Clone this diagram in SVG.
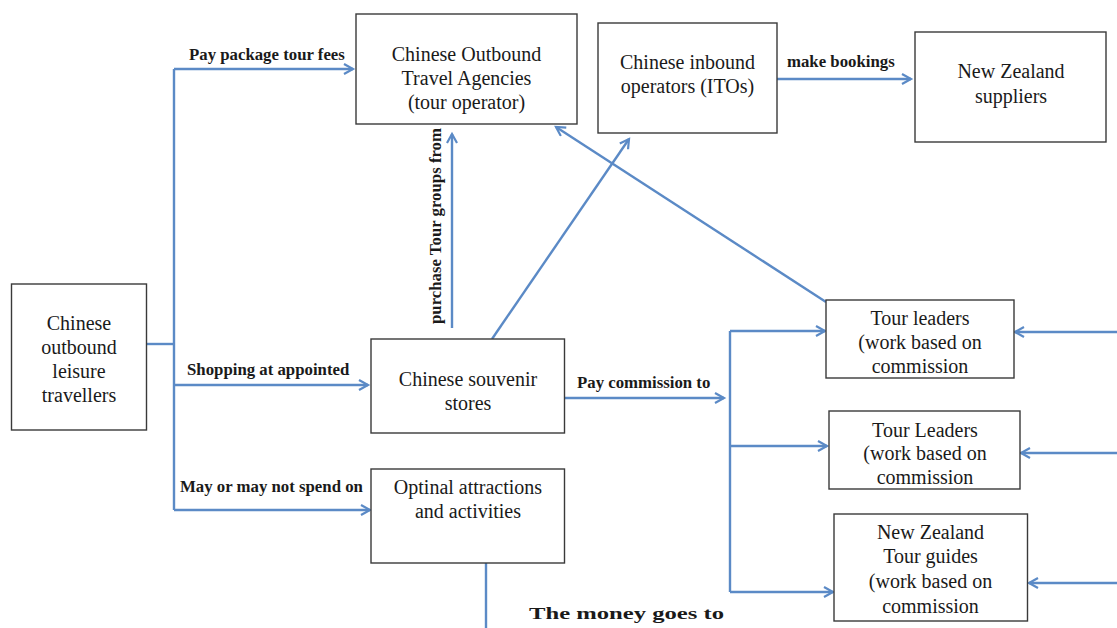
<svg xmlns="http://www.w3.org/2000/svg" width="1117" height="628" viewBox="0 0 1117 628">
  <defs>
    <marker id="arrow" markerUnits="userSpaceOnUse" markerWidth="14" markerHeight="14" refX="10" refY="6" orient="auto">
      <path d="M1,1 L10,6 L1,11" fill="none" stroke="#5b8ac6" stroke-width="2.2"/>
    </marker>
  </defs>
  <style>
    .box { fill: #ffffff; stroke: #3a3a3a; stroke-width: 1.4; }
    .node { font-family: "Liberation Serif", "Times New Roman", serif; font-size: 20px; fill: #1a1a1a; text-anchor: middle; }
    .lbl { font-family: "Liberation Serif", "Times New Roman", serif; font-size: 16.8px; font-weight: bold; fill: #1a1a1a; }
    .wire { fill: none; stroke: #5b8ac6; stroke-width: 2.4; }
    .arr { marker-end: url(#arrow); }
  </style>
  <rect width="1117" height="628" fill="#ffffff"/>

  <!-- connectors -->
  <g id="connectors">
    <!-- traveller trunk and branches -->
    <path class="wire" d="M146,344 H174"/>
    <path class="wire" d="M174,510 V69"/>
    <path class="wire arr" d="M174,69 H353"/>
    <path class="wire arr" d="M174,385 H368"/>
    <path class="wire arr" d="M174,510 H370"/>
    <!-- souvenir stores upwards -->
    <path class="wire arr" d="M452,328 V134"/>
    <path class="wire arr" d="M492,339 L629,139"/>
    <!-- tour leaders back to agencies -->
    <path class="wire arr" d="M826,302 L556,127"/>
    <!-- ITOs to suppliers -->
    <path class="wire arr" d="M777,79 H911"/>
    <!-- commission -->
    <path class="wire arr" d="M564,398 H724"/>
    <path class="wire" d="M730,331 V592"/>
    <path class="wire arr" d="M730,331 H825"/>
    <path class="wire arr" d="M730,446 H827"/>
    <path class="wire arr" d="M730,592 H833"/>
    <!-- inputs from the right -->
    <path class="wire arr" d="M1117,332 H1015"/>
    <path class="wire arr" d="M1117,453 H1021"/>
    <path class="wire arr" d="M1117,583 H1029"/>
    <!-- optional attractions downwards -->
    <path class="wire" d="M486,563 V628"/>

    <text class="lbl" x="189" y="60">Pay package tour fees</text>
    <text class="lbl" x="187" y="375">Shopping at appointed</text>
    <text class="lbl" x="180" y="492">May or may not spend on</text>
    <text class="lbl" x="787" y="67">make bookings</text>
    <text class="lbl" x="577" y="388">Pay commission to</text>
    <text class="lbl" transform="translate(441,226) rotate(-90)" text-anchor="middle">purchase Tour groups from</text>
    <text class="lbl" x="529" y="619" font-size="22" textLength="195" lengthAdjust="spacingAndGlyphs">The money goes to</text>
  </g>

  <g id="agencies">
    <rect class="box" x="356" y="14" width="221" height="110"/>
    <text class="node" x="466.5" y="61">Chinese Outbound</text>
    <text class="node" x="466.5" y="85">Travel Agencies</text>
    <text class="node" x="466.5" y="109">(tour operator)</text>
  </g>

  <g id="itos">
    <rect class="box" x="598" y="23" width="179" height="110"/>
    <text class="node" x="687.5" y="69">Chinese inbound</text>
    <text class="node" x="687.5" y="93">operators (ITOs)</text>
  </g>

  <g id="suppliers">
    <rect class="box" x="915" y="32" width="191" height="110"/>
    <text class="node" x="1011" y="78">New Zealand</text>
    <text class="node" x="1011" y="103">suppliers</text>
  </g>

  <g id="travellers">
    <rect class="box" x="11.5" y="284" width="135" height="146"/>
    <text class="node" x="79" y="330">Chinese</text>
    <text class="node" x="79" y="354">outbound</text>
    <text class="node" x="79" y="378">leisure</text>
    <text class="node" x="79" y="402">travellers</text>
  </g>

  <g id="souvenir">
    <rect class="box" x="371" y="339" width="193.5" height="94"/>
    <text class="node" x="468" y="386">Chinese souvenir</text>
    <text class="node" x="468" y="410">stores</text>
  </g>

  <g id="optional">
    <rect class="box" x="371" y="469" width="193.5" height="94"/>
    <text class="node" x="468" y="494">Optinal attractions</text>
    <text class="node" x="468" y="518">and activities</text>
  </g>

  <g id="tour-leaders-1">
    <rect class="box" x="826" y="300" width="188" height="78"/>
    <text class="node" x="920" y="325" font-size="19">Tour leaders</text>
    <text class="node" x="920" y="349" font-size="19">(work based on</text>
    <text class="node" x="920" y="373" font-size="19">commission</text>
  </g>

  <g id="tour-leaders-2">
    <rect class="box" x="829" y="411" width="191" height="78"/>
    <text class="node" x="925" y="437" font-size="19">Tour Leaders</text>
    <text class="node" x="925" y="460" font-size="19">(work based on</text>
    <text class="node" x="925" y="484" font-size="19">commission</text>
  </g>

  <g id="tour-guides">
    <rect class="box" x="834" y="514" width="193.5" height="107"/>
    <text class="node" x="930.5" y="539" font-size="19">New Zealand</text>
    <text class="node" x="930.5" y="563" font-size="19">Tour guides</text>
    <text class="node" x="930.5" y="588" font-size="19">(work based on</text>
    <text class="node" x="930.5" y="613" font-size="19">commission</text>
  </g>
</svg>
